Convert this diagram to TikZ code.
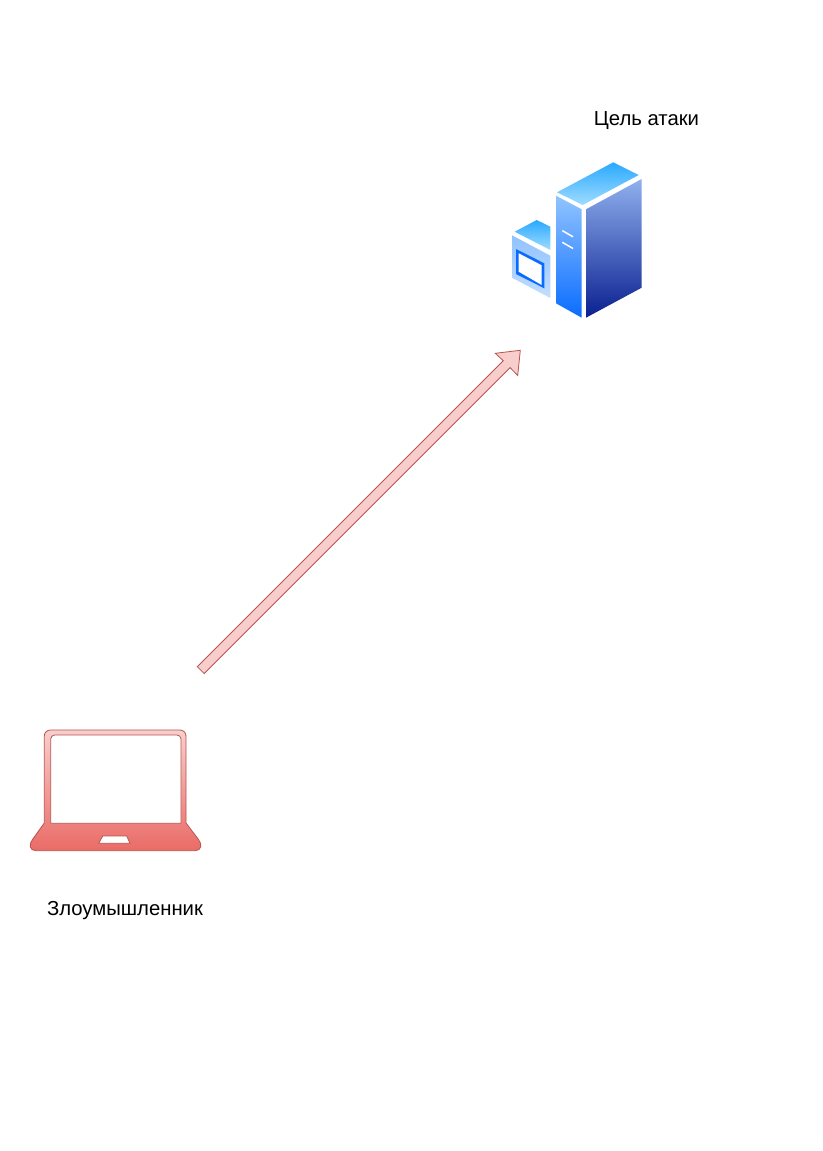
\documentclass[tikz,border=0pt]{standalone}
\usepackage{fontspec}
\setmainfont{Liberation Sans}
\definecolor{rfill}{HTML}{F8CECC}
\definecolor{rdark}{HTML}{EA6B66}
\definecolor{rline}{HTML}{B85450}
\definecolor{skyA}{HTML}{29A9FF}
\definecolor{skyB}{HTML}{A0DCFF}
\definecolor{faceA}{HTML}{90C4FF}
\definecolor{faceB}{HTML}{0A6CFF}
\definecolor{sideA}{HTML}{90B0EE}
\definecolor{sideB}{HTML}{0A2090}
\definecolor{boxA}{HTML}{90C2FF}
\definecolor{boxB}{HTML}{C4DEFF}
\tikzset{
  lbl/.style={inner sep=0pt,font=\fontsize{20.3}{24}\selectfont,text=black},
  redline/.style={draw=rline,line width=0.8pt},
  slit/.style={draw=white,line width=1.5pt},
}
\begin{document}
\begin{tikzpicture}[x=1pt,y=-1pt]
\useasboundingbox[fill=white] (0,0) rectangle (822,1151);
% labels
\node[lbl] (target) at (646.5,121) {Цель атаки};
\node[lbl] (attacker) at (125,911) {Злоумышленник};
% server: tall tower
\shade[top color=skyA,bottom color=skyB] (557,192.3) -- (613.3,162.3) -- (638.7,175) -- (582.7,205) -- cycle;
\shade[top color=faceA,bottom color=faceB] (556,195.7) -- (581.7,209.3) -- (581.7,317.7) -- (556,303.3) -- cycle;
\shade[top color=sideA,bottom color=sideB] (586,209.3) -- (641.7,179) -- (641.7,287.7) -- (586,317.7) -- cycle;
\draw[slit] (562.3,230.6) -- (573,236.8);
\draw[slit] (562.3,242.3) -- (573,248.5);
% server: small box
\shade[top color=skyA,bottom color=skyB] (514.7,231.7) -- (536.7,220) -- (550.3,226.7) -- (550.3,250) -- cycle;
\shade[top color=boxA,bottom color=boxB] (512,235.3) -- (550.3,255.7) -- (550.3,298) -- (512,277.7) -- cycle;
\fill[faceB] (516,249) -- (544.3,263.3) -- (544.3,288.3) -- (516,274) -- cycle;
\fill[white] (518.7,253.3) -- (541.7,265.3) -- (541.7,285) -- (518.7,271.7) -- cycle;
% laptop
\shade[redline,top color=rfill,bottom color=rdark]
  (50.3,730) -- (180,730) arc[start angle=-90,end angle=0,radius=6] -- (186,823)
  -- (198.5,839.5) .. controls (202.5,844.5) and (201.5,850.7) .. (195,850.7)
  -- (36,850.7) .. controls (29.5,850.7) and (28.5,844.5) .. (32.5,839.5)
  -- (44.3,823) -- (44.3,736)
  arc[start angle=180,end angle=270,radius=6] -- cycle;
\filldraw[redline,fill=white] (54.7,735) -- (177,735) arc[start angle=-90,end angle=0,radius=4] -- (181,823.3)
  -- (50.7,823.3) -- (50.7,739) arc[start angle=180,end angle=270,radius=4] -- cycle;
\filldraw[redline,fill=white] (102.7,836) -- (126.7,836) -- (130,843.3) -- (98.7,843.3) -- cycle;
% arrow
\coordinate (tip) at (520.3,350.3);
\coordinate (headL) at (495.3,353.3);
\coordinate (headR) at (517.7,375.5);
\coordinate (neckL) at (503.3,360.7);
\coordinate (neckR) at (510.1,367.6);
\coordinate (tailL) at (197.3,666.7);
\coordinate (tailR) at (204.2,673.5);
\filldraw[redline,fill=rfill,line join=miter] (tailL) -- (neckL) -- (headL) -- (tip) -- (headR) -- (neckR) -- (tailR) -- cycle;
\end{tikzpicture}
\end{document}
